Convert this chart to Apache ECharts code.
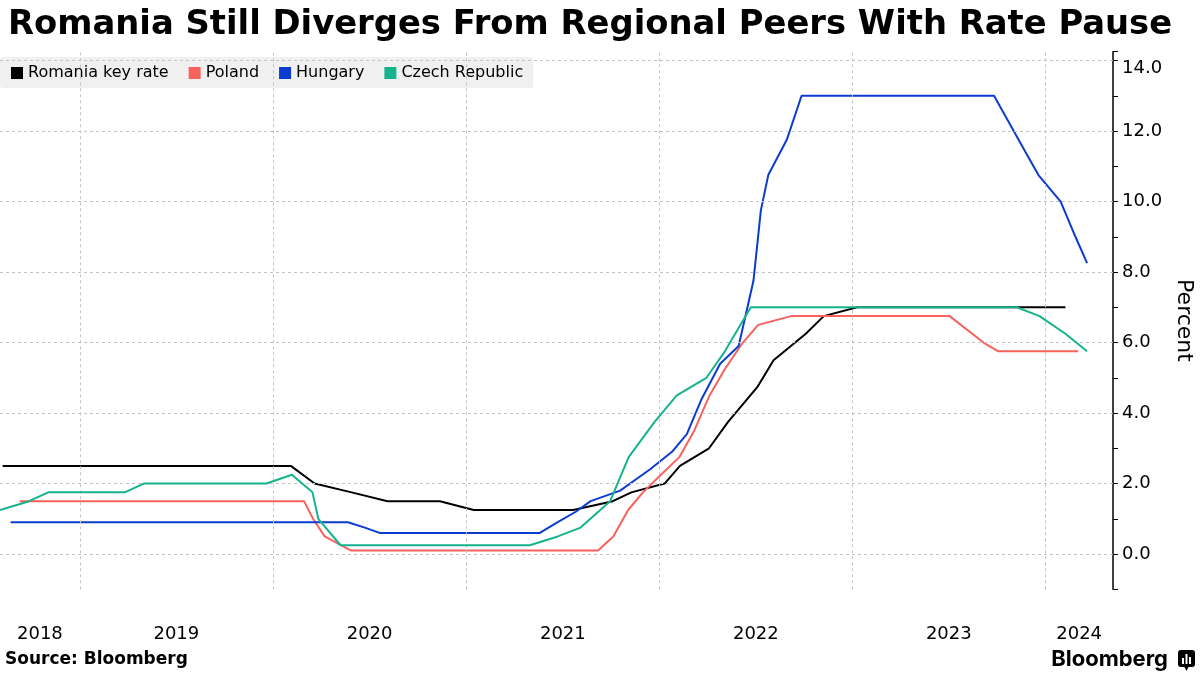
<!DOCTYPE html>
<html><head><meta charset="utf-8">
<script src="https://cdn.jsdelivr.net/npm/echarts@6/dist/echarts.min.js"></script>
<style>html,body{margin:0;padding:0;background:#fff}#c{width:1200px;height:675px}</style>
</head><body><div id="c"></div>
<script>
// ---- data ----
const seriesNames = ['Romania key rate', 'Poland', 'Hungary', 'Czech Republic'];

const romaniaDates = ['2018-08-08','2020-02-04','2020-03-20','2020-05-29','2020-08-05','2020-11-12','2021-01-15','2021-07-22','2021-10-05','2021-11-09','2022-01-11','2022-02-09','2022-04-05','2022-05-11','2022-07-06','2022-08-05','2022-10-05','2022-11-08','2023-01-10','2024-02-08'];
const romaniaValues = [2.5,2.5,2.0,1.75,1.5,1.5,1.25,1.25,1.5,1.75,2.0,2.5,3.0,3.75,4.75,5.5,6.25,6.75,7.0,7.0];

const polandDates = ['2018-09-09','2020-02-29','2020-03-17','2020-04-08','2020-05-28','2021-09-07','2021-10-06','2021-11-03','2021-12-01','2022-01-04','2022-02-08','2022-03-08','2022-04-06','2022-05-05','2022-06-08','2022-07-07','2022-09-07','2023-07-04','2023-09-06','2023-10-04','2024-03-03'];
const polandValues = [1.5,1.5,1.0,0.5,0.1,0.1,0.5,1.25,1.75,2.25,2.75,3.5,4.5,5.25,6.0,6.5,6.75,6.75,6.0,5.75,5.75];

const hungaryDates = ['2018-08-23','2020-05-22','2020-06-23','2020-07-21','2021-05-20','2021-06-22','2021-07-27','2021-08-24','2021-09-21','2021-10-19','2021-11-16','2021-12-14','2022-01-25','2022-02-22','2022-03-22','2022-04-26','2022-05-31','2022-06-28','2022-07-12','2022-07-26','2022-08-30','2022-09-27','2023-09-26','2023-10-24','2023-11-21','2023-12-19','2024-01-30','2024-02-27','2024-03-20'];
const hungaryValues = [0.9,0.9,0.75,0.6,0.6,0.9,1.2,1.5,1.65,1.8,2.1,2.4,2.9,3.4,4.4,5.4,5.9,7.75,9.75,10.75,11.75,13.0,13.0,12.25,11.5,10.75,10.0,9.0,8.25];

const czechDates = ['2018-08-03','2018-09-27','2018-11-02','2019-03-27','2019-05-02','2019-12-20','2020-02-06','2020-03-16','2020-03-27','2020-05-08','2021-05-01','2021-06-23','2021-08-05','2021-09-30','2021-11-04','2021-12-23','2022-02-03','2022-03-31','2022-05-05','2022-06-23','2023-11-08','2023-12-21','2024-02-08','2024-03-20'];
const czechValues = [1.25,1.5,1.75,1.75,2.0,2.0,2.25,1.75,1.0,0.25,0.25,0.5,0.75,1.5,2.75,3.75,4.5,5.0,5.75,7.0,7.0,6.75,6.25,5.75];

const yearLabels = ['2018','2019','2020','2021','2022','2023','2024'];
const yearBoundaries = ['2019-01-01','2020-01-01','2021-01-01','2022-01-01','2023-01-01','2024-01-01'];
const yGridValues = [0,2,4,6,8,10,12,14];
const xMin = '2018-08-03';
const xMax = '2024-05-08';

// ---- chart ----
const colors = ['#000000', '#f7625c', '#0b3bd1', '#16b38d'];
const FONT = 'DejaVu Sans';
const pair = (d, v) => d.map((x, i) => [x, v[i]]);
const seriesData = [pair(romaniaDates, romaniaValues), pair(polandDates, polandValues), pair(hungaryDates, hungaryValues), pair(czechDates, czechValues)];

const chart = echarts.init(document.getElementById('c'), null, {renderer: 'canvas'});
const gridStyle = {color: '#c4c4c4', width: 1, type: [3, 3]};

const option = {
  animation: false,
  backgroundColor: '#ffffff',
  title: {
    text: 'Romania Still Diverges From Regional Peers With Rate Pause',
    left: 3, top: 3,
    textStyle: {fontFamily: FONT, fontWeight: 'bold', fontSize: 33.8, color: '#000'}
  },
  legend: {
    data: seriesNames,
    left: 0, top: 57,
    icon: 'rect', itemWidth: 12, itemHeight: 12, itemGap: 20,
    padding: [8, 10, 7, 11],
    backgroundColor: '#f0f0f0', borderRadius: 3,
    itemStyle: {borderWidth: 0},
    textStyle: {fontFamily: FONT, fontSize: 16, color: '#000'}
  },
  grid: {left: 0, right: 87, top: 51.7, bottom: 85.7, containLabel: false, outerBoundsMode: 'none'},
  xAxis: {
    type: 'time', min: xMin, max: xMax,
    axisLine: {show: false}, axisTick: {show: false}, axisLabel: {show: false}, splitLine: {show: false}
  },
  yAxis: {
    type: 'value', position: 'right', min: -1, max: 14.25, interval: 1,
    axisLine: {show: true, lineStyle: {color: '#000', width: 1.5}},
    axisTick: {show: true, length: 5, lineStyle: {color: '#000', width: 1}},
    axisLabel: {
      fontFamily: FONT, fontSize: 18, color: '#000', margin: 9,
      formatter: v => {
        if (Math.abs(v % 2) > 1e-9) return '';
        return v === yGridValues[yGridValues.length - 1] ? '{top|' + v.toFixed(1) + '}' : v.toFixed(1);
      },
      rich: {top: {fontFamily: FONT, fontSize: 18, color: '#000', padding: [15, 0, 0, 0]}}
    },
    splitLine: {show: false},
    name: 'Percent', nameLocation: 'middle', nameRotate: -90, nameGap: 59,
    nameTextStyle: {fontFamily: FONT, fontSize: 22, color: '#000'}
  },
  series: [
    {
      name: '_grid', type: 'line', data: [], z: 1, silent: true,
      markLine: {
        silent: true, symbol: ['none', 'none'], label: {show: false},
        lineStyle: gridStyle, emphasis: {disabled: true},
        data: yearBoundaries.map(d => ({xAxis: d})).concat(yGridValues.map(v => ({yAxis: v})))
      }
    }
  ].concat(seriesNames.map((n, i) => ({
    name: n, type: 'line', data: seriesData[i], z: 2 + i,
    showSymbol: false, symbol: 'none', color: colors[i],
    lineStyle: {color: colors[i], width: 2}
  }))),
  graphic: []
};
chart.setOption(option);

// year labels centred in the visible span of each year
const toPx = d => chart.convertToPixel({xAxisIndex: 0}, +new Date(d.replace(/-/g, '/')));
const minPx = toPx(xMin), maxPx = toPx(xMax);
const labelGraphics = yearLabels.map(y => {
  const a = Math.max(minPx, toPx(y + '-01-01'));
  const b = Math.min(maxPx, toPx((+y + 1) + '-01-01'));
  return {type: 'text', x: (a + b) / 2, y: 634, style: {text: y, fontFamily: FONT, fontSize: 18, fill: '#000', align: 'center', verticalAlign: 'middle'}};
});
chart.setOption({
  graphic: labelGraphics.concat([
    {type: 'text', left: 5, top: 651, style: {text: 'Source: Bloomberg', fontFamily: FONT, fontWeight: 'bold', fontSize: 17, fill: '#000'}},
    {type: 'text', right: 32, top: 648, style: {text: 'Bloomberg', fontFamily: 'Inter', fontWeight: 'bold', fontSize: 22, fill: '#000'}},
    {type: 'group', right: 5, top: 650, children: [
      {type: 'rect', shape: {x: 0, y: 0, width: 17, height: 17, r: 3}, style: {fill: '#000'}},
      {type: 'polygon', shape: {points: [[6, 16], [11, 16], [8.5, 21]]}, style: {fill: '#000'}},
      {type: 'rect', shape: {x: 4, y: 8, width: 2, height: 6}, style: {fill: '#fff'}},
      {type: 'rect', shape: {x: 7.5, y: 4, width: 2, height: 10}, style: {fill: '#fff'}},
      {type: 'rect', shape: {x: 11, y: 7, width: 2, height: 7}, style: {fill: '#fff'}}
    ]}
  ])
});
</script></body></html>
